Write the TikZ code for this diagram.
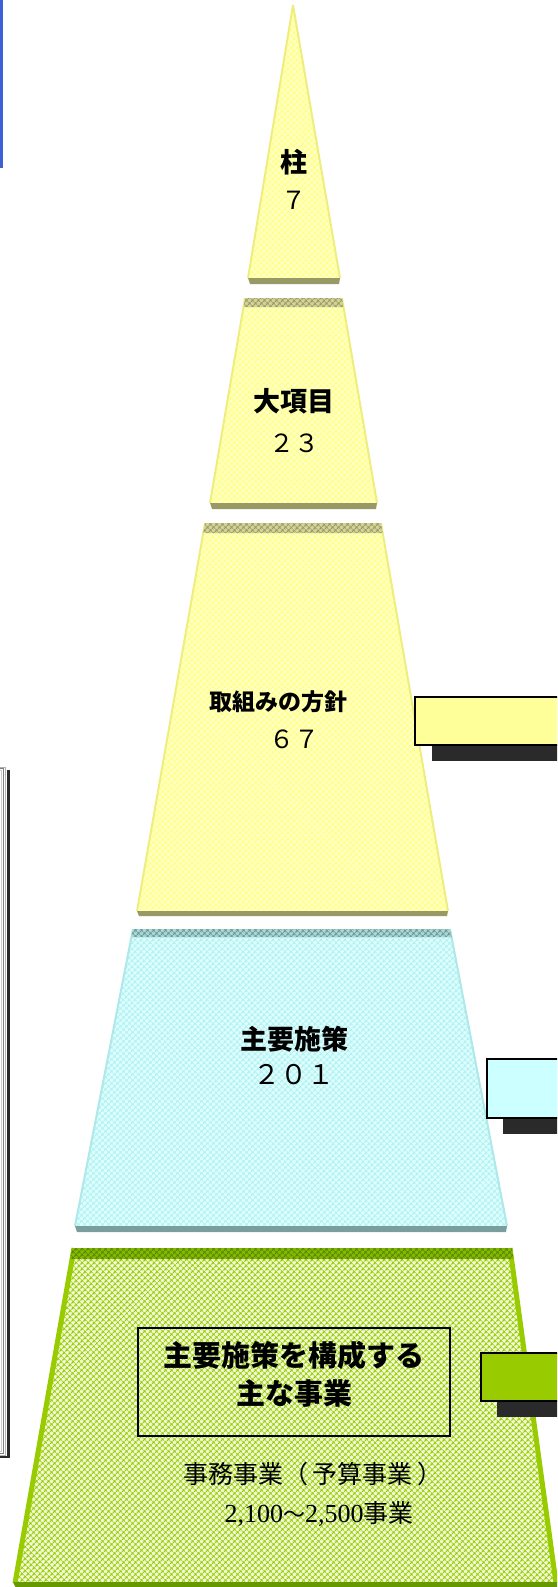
\documentclass[tikz,border=0pt]{standalone}
\usepackage{fontspec}
\setmainfont{Liberation Serif}
\newfontfamily\jp{Noto Sans CJK JP}
\usetikzlibrary{patterns.meta}
\definecolor{yBase}{HTML}{FFFFC8}
\definecolor{yHatch}{HTML}{FFFF80}
\definecolor{yBandBase}{HTML}{D6D69A}
\definecolor{yBandHatch}{HTML}{999966}
\definecolor{yStrip}{HTML}{999966}
\definecolor{yEdge}{HTML}{EEEE80}
\definecolor{cBase}{HTML}{E0FFFF}
\definecolor{cHatch}{HTML}{B0F0F0}
\definecolor{cBandBase}{HTML}{B0D8D8}
\definecolor{cBandHatch}{HTML}{669999}
\definecolor{cStrip}{HTML}{7A9E9E}
\definecolor{cEdge}{HTML}{AEE8E8}
\definecolor{gBase}{HTML}{F4FBE0}
\definecolor{gHatch}{HTML}{99CC00}
\definecolor{gBandBase}{HTML}{88BB00}
\definecolor{gBandHatch}{HTML}{558800}
\definecolor{gStrip}{HTML}{669900}
\definecolor{gEdge}{HTML}{99CC00}
\definecolor{boxY}{HTML}{FFFF99}
\definecolor{boxC}{HTML}{CCFFFF}
\definecolor{boxG}{HTML}{99CC00}
\definecolor{shadowc}{HTML}{2A2A2A}
\definecolor{blueline}{HTML}{4060D8}
\begin{document}
\begin{tikzpicture}[x=1pt,y=-1pt,
  hatchfill/.style 2 args={fill=#1, postaction={pattern={Hatch[angle=45,distance=4pt,line width=1.1pt]}, pattern color=#2}},
  yfill/.style={hatchfill={yBase}{yHatch}},
  yband/.style={hatchfill={yBandBase}{yBandHatch}},
  cfill/.style={hatchfill={cBase}{cHatch}},
  cband/.style={hatchfill={cBandBase}{cBandHatch}},
  gfill/.style={hatchfill={gBase}{gHatch}},
  gband/.style={hatchfill={gBandBase}{gBandHatch}},
  edge/.style={draw=#1, line width=2pt},
  lbl/.style={inner sep=0pt, font=\jp\bfseries\fontsize{27}{32}\selectfont},
  num/.style={inner sep=0pt, font=\jp\fontsize{25}{30}\selectfont},
  sidebox/.style={draw=black, line width=1.5pt},
]
\useasboundingbox (0,0) rectangle (557,1587);
\clip (0,0) rectangle (557,1587);

% ---- piece 1 (triangle)
\fill[yfill] (293,5) -- (340,278) -- (248,278) -- cycle;
\draw[edge=yEdge] (293,5) -- (248,278);
\draw[edge=yEdge] (293,5) -- (340,278);
\fill[yStrip] (248,278) -- (340,278) -- (339,284) -- (250,284) -- cycle;

% ---- piece 2
\fill[yfill] (245,298) -- (342,298) -- (377,503) -- (210,503) -- cycle;
\draw[edge=yEdge] (245,298) -- (210,503);
\draw[edge=yEdge] (342,298) -- (377,503);
\fill[yband] (245,298) -- (342,298) -- (343.5,307) -- (243.5,307) -- cycle;
\fill[yStrip] (210,503) -- (377,503) -- (376,509) -- (212,509) -- cycle;

% ---- piece 3
\fill[yfill] (205,523) -- (381,523) -- (448,911) -- (137,911) -- cycle;
\draw[edge=yEdge] (205,523) -- (137,911);
\draw[edge=yEdge] (381,523) -- (448,911);
\fill[yband] (205,523) -- (381,523) -- (382.7,533) -- (203.2,533) -- cycle;
\fill[yStrip] (137,911) -- (448,911) -- (447,916) -- (139,916) -- cycle;

% ---- piece 4
\fill[cfill] (133,929) -- (450,929) -- (507,1226) -- (75,1226) -- cycle;
\draw[edge=cEdge] (133,929) -- (75,1226);
\draw[edge=cEdge] (450,929) -- (507,1226);
\fill[cband] (133,929) -- (450,929) -- (451.6,937) -- (131.4,937) -- cycle;
\fill[cStrip] (75,1226) -- (507,1226) -- (506,1232) -- (77,1232) -- cycle;

% ---- piece 5
\fill[gfill] (74,1248) -- (510,1248) -- (556,1583) -- (15,1583) -- cycle;
\draw[draw=gEdge, line width=5pt] (74,1248) -- (15,1583);
\draw[draw=gEdge, line width=5pt] (510,1248) -- (556,1583);
\fill[gband] (72,1248) -- (512,1248) -- (513.4,1259) -- (70.1,1259) -- cycle;
\fill[gStrip] (13,1582) -- (560,1582) -- (560,1588) -- (16,1588) -- cycle;

% ---- labels
\node[lbl] (zhu) at (294,162) {柱};
\node[num] (zhun) at (294,200) {７};
\node[lbl] (dai) at (294,401) {大項目};
\node[num] (dain) at (294,443) {２３};
\node[lbl, font=\jp\bfseries\fontsize{23}{28}\selectfont] (tori) at (278,702) {取組みの方針};
\node[num] (torin) at (294,739) {６７};
\node[lbl] (shu) at (294,1039) {主要施策};
\node[num, font=\jp\fontsize{27}{30}\selectfont] (shun) at (294,1075) {２０１};

% ---- inner box
\draw[line width=1.5pt] (138,1328) rectangle (450,1436);
\node[inner sep=0pt, align=center, font=\jp\bfseries\fontsize{29}{38}\selectfont] (kosei) at (294,1374) {主要施策を構成する\\主な事業};
\node[inner sep=0pt, font=\jp\fontsize{25}{28}\selectfont] (jimu) at (313,1474) {事務事業（\,予算事業\,）};
\node[inner sep=0pt, font=\fontsize{26}{30}\selectfont] (kazu) at (319,1514) {2,100{\jp\fontsize{22}{26}\selectfont ～}2,500{\jp\fontsize{25}{28}\selectfont 事業}};

% ---- right boxes
\fill[shadowc] (432,745) rectangle (580,761);
\draw[sidebox, fill=boxY] (415,697) rectangle (580,745);
\fill[shadowc] (503,1118) rectangle (580,1134);
\draw[sidebox, fill=boxC] (487,1059) rectangle (580,1118);
\fill[shadowc] (497,1401) rectangle (580,1417);
\draw[sidebox, fill=boxG] (481,1353) rectangle (580,1401);

% ---- left boxes
\draw[blueline, line width=3pt] (-20,-5) rectangle (1.5,166);
\fill[shadowc] (7,770) rectangle (9.5,1458);
\fill[shadowc] (-20,1455.5) rectangle (9.5,1458);
\draw[gray!60, line width=1pt] (-20,767) rectangle (5.5,1455);
\draw[gray, line width=1pt] (-20,768.5) rectangle (3.5,1453);
\draw[gray!40, line width=1pt] (-20,770) rectangle (1.5,1451);
\end{tikzpicture}
\end{document}
